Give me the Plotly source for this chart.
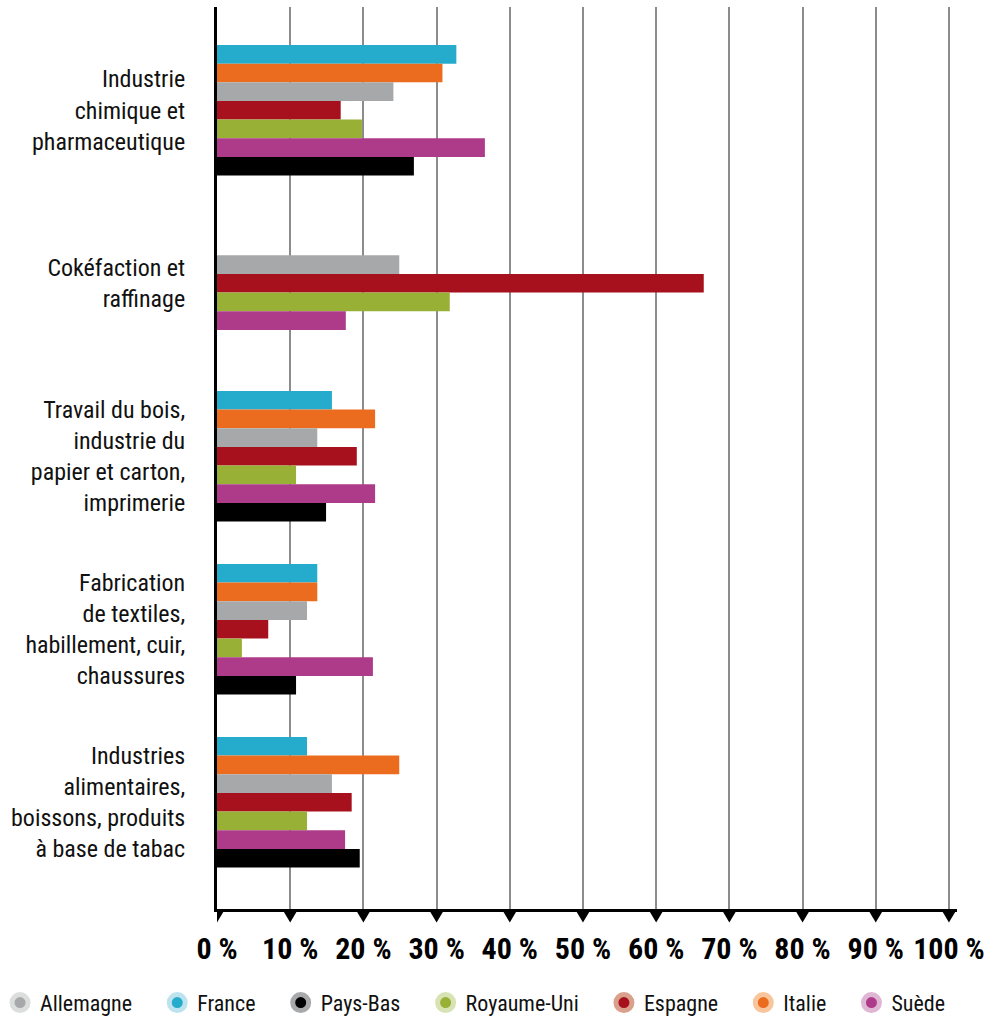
import plotly.graph_objects as go

categories = [
    "Industrie<br>chimique et<br>pharmaceutique",
    "Cokéfaction et<br>raffinage",
    "Travail du bois,<br>industrie du<br>papier et carton,<br>imprimerie",
    "Fabrication<br>de textiles,<br>habillement, cuir,<br>chaussures",
    "Industries<br>alimentaires,<br>boissons, produits<br>à base de tabac",
]

# values in % (None = no bar)
france      = [32.7, None, 15.7, 13.7, 12.3]
italie      = [30.8, None, 21.6, 13.7, 24.9]
allemagne   = [24.1, 24.9, 13.7, 12.3, 15.7]
espagne     = [16.9, 66.5, 19.1, 7.0, 18.4]
royaume_uni = [19.8, 31.8, 10.8, 3.4, 12.3]
suede       = [36.6, 17.6, 21.6, 21.3, 17.5]
pays_bas    = [26.9, None, 14.9, 10.8, 19.5]

tick_values = [0, 10, 20, 30, 40, 50, 60, 70, 80, 90, 100]
tick_labels = [f"{v} %" for v in tick_values]

# bar order (top to bottom within group)
bar_series = [
    ("France", france, "#25abcb"),
    ("Italie", italie, "#ec6c1f"),
    ("Allemagne", allemagne, "#a7a8aa"),
    ("Espagne", espagne, "#a7101d"),
    ("Royaume-Uni", royaume_uni, "#98b035"),
    ("Suède", suede, "#ae3b89"),
    ("Pays-Bas", pays_bas, "#000000"),
]

# legend order with ring colours
legend_items = [
    ("Allemagne", "#a7a8aa", "#dcdddd"),
    ("France", "#25abcb", "#bde3ee"),
    ("Pays-Bas", "#000000", "#a8a9ab"),
    ("Royaume-Uni", "#98b035", "#d8e3b3"),
    ("Espagne", "#a7101d", "#d9a08c"),
    ("Italie", "#ec6c1f", "#f8c59c"),
    ("Suède", "#ae3b89", "#dfb6d3"),
]

FONT = "Liberation Sans Narrow, Arial Narrow, Roboto Condensed, Roboto, sans-serif"

fig = go.Figure()
for name, vals, col in bar_series:
    fig.add_trace(go.Bar(
        y=categories, x=vals, name=name, orientation="h",
        marker=dict(color=col, line=dict(width=0)),
        showlegend=False, hoverinfo="x+name",
    ))

for i, (name, col, ring) in enumerate(legend_items):
    pad = "" if i == len(legend_items) - 1 else "\u00a0\u00a0\u00a0\u00a0"
    fig.add_trace(go.Scatter(
        x=[None], y=[None], mode="markers", name=name + pad,
        marker=dict(symbol="circle", size=16, color=col, line=dict(color=ring, width=5)),
        showlegend=True,
    ))

# downward triangles under each x tick (drawn from the tick values)
tri_half = 1.1    # half width in data units
tri_h = 0.0150    # height in paper units
for v in tick_values:
    fig.add_shape(
        type="path", xref="x", yref="paper",
        path=f"M {v - tri_half},0 L {v + tri_half},0 L {v},{-tri_h} Z",
        fillcolor="#000000", line=dict(width=0), layer="above",
    )

fig.update_layout(
    width=1005, height=1019,
    margin=dict(l=217, r=48, t=7, b=110, autoexpand=False),
    paper_bgcolor="white", plot_bgcolor="white",
    barmode="group", bargap=0.245, bargroupgap=0,
    font=dict(family=FONT, color="#111111"),
    xaxis=dict(
        range=[0, 101.1], tickvals=tick_values, ticktext=tick_labels,
        showgrid=True, gridcolor="#8c8c8c", gridwidth=1.5,
        zeroline=False, showline=True, linecolor="#000000", linewidth=2.5,
        ticks="", ticklabelstandoff=11,
        tickfont=dict(family=FONT, size=30, color="#000000", weight="bold"),
        fixedrange=True,
    ),
    yaxis=dict(
        range=[4.617, -0.597], type="category",
        showgrid=False, zeroline=False,
        showline=True, linecolor="#000000", linewidth=3,
        ticks="", ticklabelstandoff=24,
        tickfont=dict(family=FONT, size=24, color="#111111"),
        fixedrange=True,
    ),
    legend=dict(
        orientation="h", xref="paper", yref="paper",
        x=-0.2932, y=-0.104, xanchor="left", yanchor="middle",
        font=dict(family=FONT, size=22, color="#111111"),
        itemsizing="trace", bgcolor="rgba(0,0,0,0)",
    ),
)

fig.write_html("out.html", post_script="document.body.style.margin='0';",
               config={"displayModeBar": False})
